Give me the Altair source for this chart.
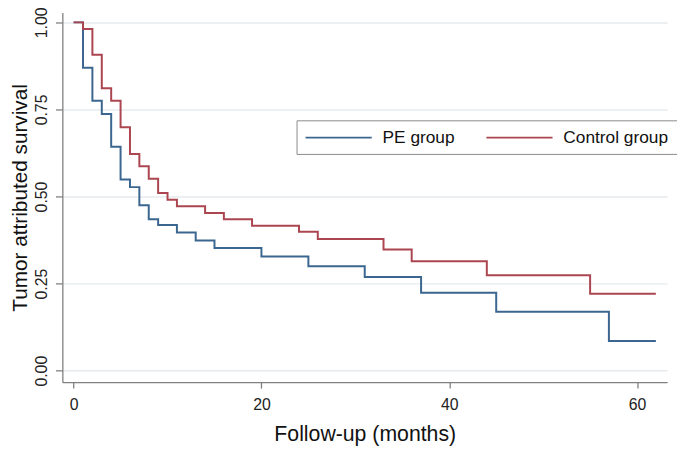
import altair as alt
import pandas as pd

# Kaplan-Meier step values
pe_time = [0, 1, 2, 3, 4, 5, 6, 7, 8, 9, 11, 13, 15, 20, 25, 31, 37, 45, 57, 62]
pe_surv = [1.0, 0.870, 0.775, 0.737, 0.643, 0.549, 0.527, 0.475, 0.435, 0.418,
           0.397, 0.374, 0.352, 0.328, 0.300, 0.269, 0.224, 0.169, 0.085, 0.085]

ctrl_time = [0, 1, 2, 3, 4, 5, 6, 7, 8, 9, 10, 11, 14, 16, 19, 24, 26, 33, 36, 44, 55, 62]
ctrl_surv = [1.0, 0.981, 0.907, 0.811, 0.775, 0.699, 0.622, 0.587, 0.551, 0.510, 0.491,
             0.472, 0.453, 0.435, 0.416, 0.399, 0.378, 0.348, 0.314, 0.274, 0.221, 0.221]

groups = ["PE group", "Control group"]
colors = ["#3b6690", "#ab4550"]
x_ticks = [0, 20, 40, 60]
y_ticks = [0, 0.25, 0.5, 0.75, 1.0]

df = pd.concat([
    pd.DataFrame({"t": pe_time, "s": pe_surv, "group": groups[0]}),
    pd.DataFrame({"t": ctrl_time, "s": ctrl_surv, "group": groups[1]}),
], ignore_index=True)

FONT = "Liberation Sans"

x = alt.X("t:Q", scale=alt.Scale(domain=[-1.2, 63.2], nice=False, zero=False),
          axis=alt.Axis(values=x_ticks, grid=False, title="Follow-up (months)",
                        labelFontSize=16, titleFontSize=21.5, tickSize=6,
                        labelPadding=9, titlePadding=11, format="d"))
y = alt.Y("s:Q", scale=alt.Scale(domain=[-0.033, 1.028], nice=False, zero=False),
          axis=alt.Axis(values=y_ticks, grid=True, title="Tumor attributed survival",
                        format=".2f", labelFontSize=16, titleFontSize=21, tickSize=7,
                        labelAngle=270, labelAlign="center", labelBaseline="bottom",
                        labelPadding=6, titlePadding=3))
color = alt.Color("group:N", scale=alt.Scale(domain=groups, range=colors),
                  legend=alt.Legend(title=None, orient="none", legendX=237, legendY=109,
                                    direction="horizontal", symbolType="M-1,0H7",
                                    symbolSize=280, symbolStrokeWidth=1.6,
                                    symbolFillColor="transparent",
                                    labelFontSize=17.5, labelFont=FONT, labelColor="#111111",
                                    labelOffset=60, columnPadding=28,
                                    strokeColor="#8a8a8a", padding=8, fillColor="white"))

base = alt.Chart(df).encode(x=x, y=y, color=color)
pe = base.transform_filter(alt.datum.group == groups[0]).mark_line(interpolate="step-after", strokeWidth=2)
ctrl = base.transform_filter(alt.datum.group == groups[1]).mark_line(interpolate="step-after", strokeWidth=2)

chart = alt.layer(pe, ctrl).properties(
    width=612, height=374,
    autosize=alt.AutoSizeParams(type="none"),
    padding={"left": 55, "top": 2, "right": 10, "bottom": 70},
).configure_view(stroke=None).configure_axis(
    labelFont=FONT, titleFont=FONT, labelColor="#222222", titleColor="#111111",
    titleFontWeight="normal", domainColor="#808080", tickColor="#808080",
    domainWidth=1.3, tickWidth=1.3, gridColor="#e6ebee", gridWidth=1.5,
)

chart.save("out.html", embed_options={"renderer": "svg", "actions": False})
